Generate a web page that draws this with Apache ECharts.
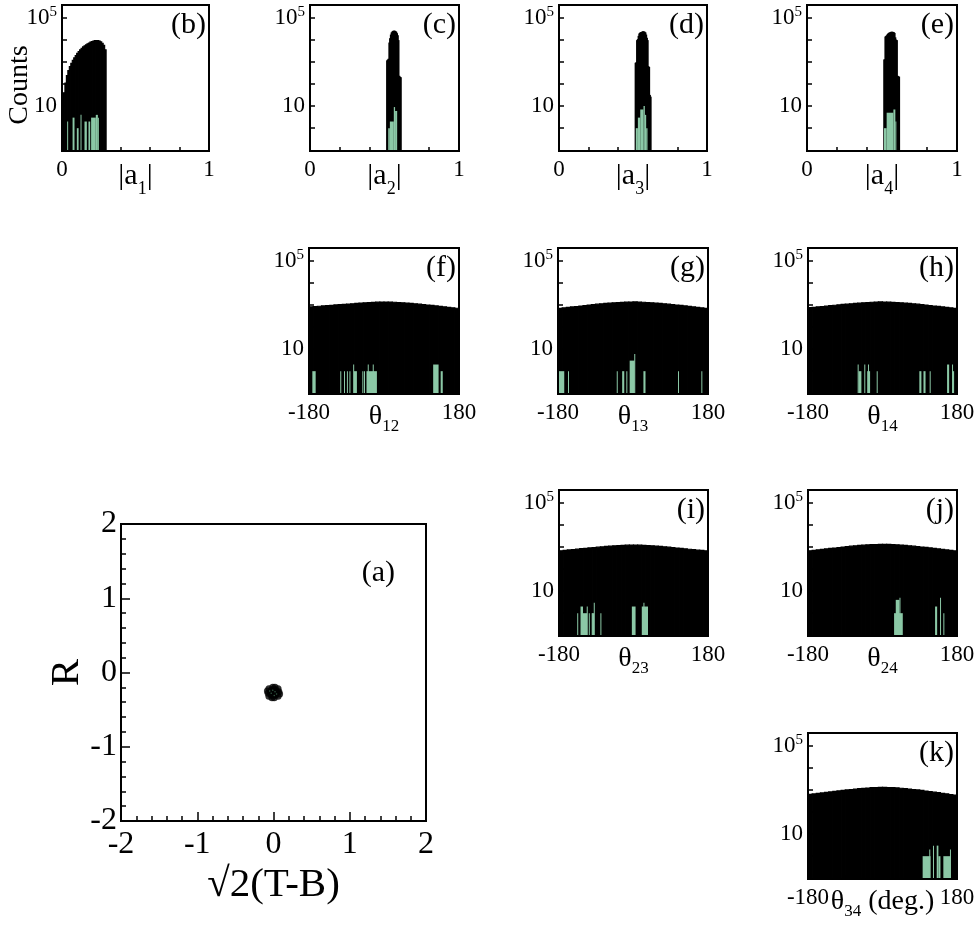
<!DOCTYPE html>
<html>
<head>
<meta charset="utf-8">
<script src="https://cdn.jsdelivr.net/npm/echarts@6/dist/echarts.min.js"></script>
<style>
html, body { margin: 0; padding: 0; background: #fff; }
#chart { width: 979px; height: 926px; }
</style>
</head>
<body>
<div id="chart"></div>
<script>
// ---------- data ----------
// |a_n| histograms: bin edges and counts (all events, black)
const a1Edges = [0.00,0.01,0.02,0.03,0.04,0.05,0.06,0.07,0.08,0.09,0.10,0.11,0.12,0.13,0.14,0.15,
                 0.16,0.17,0.18,0.19,0.20,0.21,0.22,0.23,0.24,0.25,0.26,0.27,0.28,0.29,0.30];
const a1Counts = [7,40,110,240,400,600,850,1150,1500,1900,2400,2900,3500,4100,4700,5300,
                  5900,6500,7100,7700,8200,8700,9000,9100,9000,8600,7900,6900,5500,3500];

const a2Edges = [0.515,0.520,0.525,0.530,0.535,0.540,0.545,0.550,0.555,0.560,0.565,0.570,0.575,
                 0.580,0.585,0.590,0.595,0.600,0.605,0.610];
const a2Counts = [1100,1200,1300,7000,11000,16000,20000,22000,23500,24000,24000,23000,21500,
                  18500,15000,9000,220,200,190];

const a3Edges = [0.515,0.520,0.525,0.530,0.535,0.540,0.545,0.550,0.555,0.560,0.565,0.570,0.575,
                 0.580,0.585,0.590,0.595,0.600,0.605,0.610,0.615,0.620];
const a3Counts = [850,900,9000,10000,14000,18000,19500,20500,21000,22000,22500,22000,21500,
                  20000,16000,11500,9000,600,550,30,25];

const a4Edges = [0.513,0.515,0.520,0.525,0.530,0.535,0.540,0.545,0.550,0.555,0.560,0.565,0.570,
                 0.575,0.580,0.585,0.590,0.595,0.600,0.605,0.610,0.614];
const a4Counts = [1200,1200,13000,14000,15000,17000,18500,19500,20000,21000,21500,21500,21000,
                  20500,19000,12000,9500,9000,220,210,200];

// selected events (green): [from, to, count]
const a1Green = [[0.035,0.040,2],[0.072,0.085,3],[0.101,0.113,1],[0.126,0.131,4],[0.153,0.169,2],
                 [0.180,0.192,2],[0.198,0.230,3],[0.230,0.244,4],[0.244,0.250,3]];
const a2Green = [[0.525,0.536,1],[0.536,0.5625,2],[0.5625,0.571,9],[0.571,0.585,6]];
const a3Green = [[0.519,0.533,1],[0.533,0.549,3],[0.549,0.571,7],[0.571,0.580,10],
                 [0.580,0.589,4],[0.589,0.598,1]];
const a4Green = [[0.513,0.531,1],[0.531,0.576,5],[0.576,0.589,7],[0.589,0.594,2]];

// relative phase histograms (degrees)
const thetaEdges = [-180,-170,-160,-150,-140,-130,-120,-110,-100,-90,-80,-70,-60,-50,-40,-30,-20,-10,
                    0,10,20,30,40,50,60,70,80,90,100,110,120,130,140,150,160,170,180];
const t12Counts = [810,830,860,890,920,950,985,1020,1050,1085,1120,1160,1195,1230,1265,1295,1320,1340,
                   1340,1330,1305,1275,1240,1200,1160,1115,1070,1025,980,935,890,850,810,770,735,700];
const t13Counts = [690,725,760,800,840,885,930,975,1020,1065,1110,1155,1195,1235,1270,1300,1325,1340,
                   1345,1330,1305,1275,1240,1200,1160,1115,1070,1025,980,935,890,845,805,765,730,695];
const t14Counts = [740,770,805,840,875,915,955,995,1040,1080,1120,1160,1200,1240,1275,1305,1330,1345,
                   1340,1325,1300,1270,1235,1195,1155,1110,1065,1020,975,930,885,845,805,765,730,695];
const t23Counts = [665,690,720,750,785,820,855,890,925,960,1000,1040,1075,1110,1140,1165,1185,1200,
                   1200,1190,1170,1145,1115,1080,1045,1005,965,925,885,850,810,775,740,710,685,660];
const t24Counts = [665,695,730,765,805,845,885,930,975,1020,1065,1110,1150,1190,1225,1255,1275,1290,
                   1290,1280,1260,1230,1195,1155,1115,1070,1025,980,935,890,845,805,765,725,690,655];
const t34Counts = [620,650,685,720,760,800,845,890,935,985,1030,1080,1125,1170,1210,1245,1275,1290,
                   1290,1275,1250,1215,1175,1130,1085,1035,985,935,885,835,785,740,695,655,615,580];

const t12Green = [[-172,-164,1],[-105,-104,1],[-96,-95,1],[-89,-88,1],[-83,-82,1],[-74,-73,2],[-72,-65,1],
                  [-52,-51,1],[-48,-47,1],[-42,-17,1],[-39,-38,2],[-27,-26,2],[118,131,2],[136,141,1]];
const t13Green = [[-180,-165,1],[-156,-155,1],[-39,-38,1],[-26,-21,1],[-16,-15,1],[-8,4,3],[3,4,6],
                  [25,30,1],[108,109,1],[164,165,1]];
const t14Green = [[-60,-59,2],[-58,-51,1],[-44,-43,2],[-37,-30,1],[-35,-34,2],[-14,-13,1],[89,94,1],
                  [99,104,1],[114,115,1],[156,161,2],[168,169,2],[169,173,1]];
const t23Green = [[-136,-135,1],[-128,-122,2],[-122,-112,1],[-113,-112,2],[-108,-107,1],[-101,-100,1],
                  [-100,-95,1],[-96,-95,3],[-80,-79,1],[-4,5,2],[20,35,2],[24,25,3]];
const t24Green = [[28,49,1],[32,41,4],[41,42,5],[127,132,2],[139,140,5],[147,148,1]];
const t34Green = [[97,116,1],[113,114,2],[122,123,3],[131,135,3],[135,140,1],[147,165,1],[163,164,2]];

// (R, sqrt2(T-B)) cloud
const cloudAll = [[0.00,-0.27],[0.04,-0.27],[-0.04,-0.27],[0.00,-0.23],[0.00,-0.31],[0.03,-0.24],
                  [-0.03,-0.24],[0.03,-0.30],[-0.03,-0.30],[0.07,-0.26],[-0.07,-0.28],[0.06,-0.22],
                  [-0.06,-0.22],[0.06,-0.32],[-0.06,-0.32],[0.02,-0.20],[-0.02,-0.34],[0.08,-0.29],
                  [-0.08,-0.25],[0.01,-0.34],[-0.01,-0.20]];
const cloudSel = [[0.02,-0.26],[-0.03,-0.28],[0.01,-0.31],[-0.01,-0.24],[0.04,-0.29],[-0.05,-0.25]];

// ---------- styling ----------
const FONT = 'Liberation Serif';
const GREEN = '#8bc8a6';
const SPECK = '#3f6f55';
const Y_MIN = 0.093, Y_MAX = 3.7e5;

function toBins(edges, counts) {
  return counts.map((c, i) => [edges[i], edges[i + 1], c]);
}

const panels = [
  { id: '(b)', box: [62, 5, 147, 146],   kind: 'a', sub: '1', black: toBins(a1Edges, a1Counts), green: a1Green },
  { id: '(c)', box: [310, 5, 149, 146],  kind: 'a', sub: '2', black: toBins(a2Edges, a2Counts), green: a2Green },
  { id: '(d)', box: [559, 5, 148, 146],  kind: 'a', sub: '3', black: toBins(a3Edges, a3Counts), green: a3Green },
  { id: '(e)', box: [807, 5, 150, 146],  kind: 'a', sub: '4', black: toBins(a4Edges, a4Counts), green: a4Green },
  { id: '(f)', box: [309, 248, 150, 146], kind: 't', sub: '12', black: toBins(thetaEdges, t12Counts), green: t12Green },
  { id: '(g)', box: [558, 248, 150, 146], kind: 't', sub: '13', black: toBins(thetaEdges, t13Counts), green: t13Green },
  { id: '(h)', box: [808, 248, 149, 146], kind: 't', sub: '14', black: toBins(thetaEdges, t14Counts), green: t14Green },
  { id: '(i)', box: [559, 490, 149, 146], kind: 't', sub: '23', black: toBins(thetaEdges, t23Counts), green: t23Green },
  { id: '(j)', box: [808, 490, 149, 146], kind: 't', sub: '24', black: toBins(thetaEdges, t24Counts), green: t24Green },
  { id: '(k)', box: [808, 733, 149, 146], kind: 't', sub: '34', black: toBins(thetaEdges, t34Counts), green: t34Green, deg: true }
];

function histItem(params, api) {
  const p0 = api.coord([api.value(0), api.value(2)]);
  const p1 = api.coord([api.value(1), Y_MIN]);
  const color = api.visual('color');
  const solid = color === '#000' || color === '#000000';
  return {
    type: 'rect',
    shape: { x: p0[0], y: p0[1], width: Math.max(1, p1[0] - p0[0]), height: p1[1] - p0[1] },
    style: solid ? { fill: color, stroke: color, lineWidth: 1.2 } : { fill: color }
  };
}

const grid = [], xAxis = [], yAxis = [], series = [], graphic = [];

panels.forEach((p, i) => {
  const [l, t, w, h] = p.box;
  grid.push({ left: l, top: t, width: w, height: h, show: true, borderColor: '#000', borderWidth: 2,
              backgroundColor: 'transparent', containLabel: false, outerBoundsMode: 'none', z: 3 });
  const isA = p.kind === 'a';
  xAxis.push({
    gridIndex: i, type: 'value',
    min: isA ? 0 : -180, max: isA ? 1 : 180, interval: isA ? 0.2 : 90,
    axisLine: { show: false, onZero: false },
    axisTick: { show: true, inside: true, length: 4, lineStyle: { color: '#000', width: 1.5 } },
    splitLine: { show: false },
    axisLabel: {
      fontFamily: FONT, fontSize: 23, color: '#000', margin: 7, showMinLabel: true, showMaxLabel: true,
      formatter: v => isA ? (v === 0 ? '0' : (v === 1 ? '1' : '')) : (v === -180 ? '-180' : (v === 180 ? '180' : ''))
    },
    name: isA ? '|a{s|' + p.sub + '}|' : '\u03b8{s|' + p.sub + '}' + (p.deg ? ' (deg.)' : ''),
    nameLocation: 'middle', nameGap: isA ? 3 : 4, nameMoveOverlap: false,
    nameTextStyle: {
      fontFamily: FONT, fontSize: isA ? 30 : 28, color: '#000',
      rich: { s: { fontFamily: FONT, fontSize: isA ? 18 : 17, color: '#000', verticalAlign: 'bottom',
                   padding: [isA ? 26 : 20, 0, 0, 0] } }
    }
  });
  yAxis.push({
    gridIndex: i, type: 'log', logBase: 10, min: Y_MIN, max: Y_MAX,
    axisLine: { show: false, onZero: false },
    axisTick: { show: true, inside: true, length: 5, lineStyle: { color: '#000', width: 1.5 } },
    splitLine: { show: false },
    axisLabel: {
      fontFamily: FONT, fontSize: 23, color: '#000', margin: 5,
      formatter: v => {
        const e = Math.log10(v);
        if (Math.abs(e - 1) < 1e-6) return '10';
        if (Math.abs(e - 5) < 1e-6) return '10{sup|5}';
        return '';
      },
      rich: { sup: { fontFamily: FONT, fontSize: 15, color: '#000', verticalAlign: 'top', padding: [0, 0, 11, 0] } }
    }
  });
  series.push({
    type: 'custom', xAxisIndex: i, yAxisIndex: i, renderItem: histItem, data: p.black,
    encode: { x: [0, 1], y: 2 }, itemStyle: { color: '#000' }, silent: true, animation: false, clip: true, z: 2
  });
  series.push({
    type: 'custom', xAxisIndex: i, yAxisIndex: i, renderItem: histItem, data: p.green,
    encode: { x: [0, 1], y: 2 }, itemStyle: { color: GREEN }, silent: true, animation: false, clip: true, z: 2
  });
  graphic.push({
    type: 'text', x: l + w - 3, y: t + 5, z: 10,
    style: { text: p.id, font: '30px ' + FONT, fill: '#000', align: 'right', verticalAlign: 'top' }
  });
});

// panel (a): cloud in the (sqrt2(T-B), R) plane
const ai = panels.length;
grid.push({ left: 121, top: 524, width: 305, height: 297, show: true, borderColor: '#000', borderWidth: 2,
            backgroundColor: 'transparent', containLabel: false, outerBoundsMode: 'none', z: 3 });
const axisA = {
  gridIndex: ai, type: 'value', min: -2, max: 2, interval: 1,
  axisLine: { show: false, onZero: false },
  axisTick: { show: true, inside: true, length: 9, lineStyle: { color: '#000', width: 1.5 } },
  minorTick: { show: true, splitNumber: 5, length: 5, lineStyle: { color: '#000', width: 1.5 } },
  splitLine: { show: false },
  axisLabel: { fontFamily: FONT, fontSize: 32, color: '#000', showMinLabel: true, showMaxLabel: true },
  nameLocation: 'middle', nameMoveOverlap: false,
  nameTextStyle: { fontFamily: FONT, fontSize: 41, color: '#000' }
};
xAxis.push(Object.assign({}, axisA, { name: '\u221a2(T-B)', nameGap: 44,
  axisLabel: Object.assign({}, axisA.axisLabel, { margin: 8 }) }));
yAxis.push(Object.assign({}, axisA, { name: 'R', nameGap: 33, nameRotate: 90,
  axisLabel: Object.assign({}, axisA.axisLabel, { margin: 4 }) }));
series.push({
  type: 'scatter', xAxisIndex: ai, yAxisIndex: ai, data: cloudAll, symbolSize: 7,
  itemStyle: { color: '#000' }, silent: true, animation: false, z: 2
});
series.push({
  type: 'scatter', xAxisIndex: ai, yAxisIndex: ai, data: cloudSel, symbolSize: 1.5,
  itemStyle: { color: SPECK }, silent: true, animation: false, z: 3
});
graphic.push({
  type: 'text', x: 121 + 305 - 31, y: 524 + 34, z: 10,
  style: { text: '(a)', font: '30px ' + FONT, fill: '#000', align: 'right', verticalAlign: 'top' }
});
graphic.push({
  type: 'text', x: 20, y: 85, rotation: Math.PI / 2, z: 10,
  style: { text: 'Counts', font: '28px ' + FONT, fill: '#000', align: 'center', verticalAlign: 'middle' }
});

const chart = echarts.init(document.getElementById('chart'), null, { renderer: 'canvas' });
chart.setOption({
  animation: false,
  backgroundColor: '#fff',
  tooltip: { show: false },
  grid, xAxis, yAxis, series, graphic
});
</script>
</body>
</html>
